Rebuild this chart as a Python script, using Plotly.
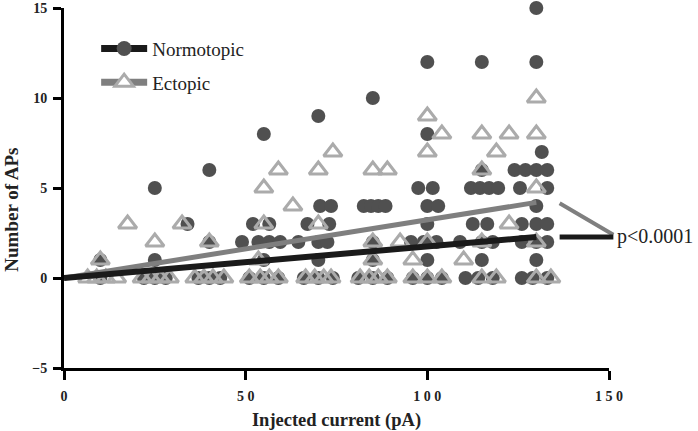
import plotly.graph_objects as go

# Normotopic cells (filled circles): injected current (pA) vs number of APs
norm_x = [10, 10,
          25, 25, 25, 22, 28,
          40, 34, 40, 40, 37, 43,
          55, 52, 56.5, 49, 53.5, 56.5, 59.5, 55, 51, 55, 59,
          70, 70.5, 73.5, 67, 73, 64.5, 70, 72.5, 70, 66, 70, 74,
          85, 82.5, 84.5, 86.5, 88.5, 85, 85, 81, 85, 89,
          100, 100, 97.5, 101.5, 100, 103, 100, 95.5, 99, 102.5, 100, 96, 100, 104,
          115, 115, 112, 114.5, 117, 119.5, 112.5, 116.5, 109, 115, 118, 115, 110.5, 114, 118,
          130, 130, 131.5, 124, 127, 130, 133, 125.5, 133, 130, 126, 130, 133, 126, 130, 133, 130, 126, 129, 133]
norm_y = [1, 0,
          5, 1, 0, 0, 0,
          6, 3, 2, 0, 0, 0,
          8, 3, 3, 2, 2, 2, 2, 1, 0, 0, 0,
          9, 4, 4, 3, 3, 2, 2, 2, 1, 0, 0, 0,
          10, 4, 4, 4, 4, 2, 1, 0, 0, 0,
          12, 8, 5, 5, 4, 4, 3, 2, 2, 2, 1, 0, 0, 0,
          12, 6, 5, 5, 5, 5, 3, 3, 2, 2, 2, 1, 0, 0, 0,
          15, 12, 7, 6, 6, 6, 6, 5, 5, 4, 3, 3, 3, 2, 2, 2, 1, 0, 0, 0]

# Ectopic cells (open triangles)
ect_x = [10, 17.5, 6.5, 9, 11.5, 14.5,
         25, 32.5, 21.5, 24, 26.5, 29,
         40, 36, 38.5, 41, 44,
         55, 59, 63, 55, 53.5, 51, 54, 56.5, 59,
         70, 74, 70, 66.5, 69, 71.5, 73.5,
         85, 89, 85, 92.5, 85, 81.5, 84, 86.5, 89,
         100, 104, 100, 100, 96, 96, 100, 104,
         115, 122.5, 119, 115, 122.5, 115, 110, 115, 119,
         130, 130, 130, 130, 130, 134]
ect_y = [1, 3, 0, 0, 0, 0,
         2, 3, 0, 0, 0, 0,
         2, 0, 0, 0, 0,
         5, 6, 4, 3, 1, 0, 0, 0, 0,
         6, 7, 3, 0, 0, 0, 0,
         6, 6, 2, 2, 1, 0, 0, 0, 0,
         9, 8, 7, 2, 1, 0, 0, 0,
         8, 8, 7, 6, 3, 2, 1, 0, 0,
         10, 8, 5, 2, 0, 0]

# linear regression lines
fit_x = [0, 130]
norm_fit_y = [0, 2.28]
ect_fit_y = [0, 4.2]

# bracket leading to the p-value label
bracket_x = [136, 151.2]
bracket_norm_y = [2.28, 2.28]
bracket_ect_y = [4.2, 2.4]
p_label = "p<0.0001"

x_ticks = [0, 50, 100, 150]
x_ticktext = ["0", "5 0", "1 0 0", "1 5 0"]
y_ticks = [-5, 0, 5, 10, 15]

DARK = "#505050"
LIGHT = "#ababab"
BLACK_LINE = "#1a1a1a"
GRAY_LINE = "#7f7f7f"
SERIF = "Liberation Serif, Times New Roman, serif"

fig = go.Figure()
fig.add_trace(go.Scatter(x=norm_x, y=norm_y, mode="markers", showlegend=False, cliponaxis=False,
                         marker=dict(symbol="circle", size=14, color=DARK, line=dict(width=0))))
fig.add_trace(go.Scatter(x=ect_x, y=ect_y, mode="markers", showlegend=False, cliponaxis=False,
                         marker=dict(symbol="triangle-up-open", size=16, color=LIGHT, line=dict(width=3, color=LIGHT))))
fig.add_trace(go.Scatter(x=fit_x, y=ect_fit_y, mode="lines", showlegend=False, line=dict(color=GRAY_LINE, width=5)))
fig.add_trace(go.Scatter(x=fit_x, y=norm_fit_y, mode="lines", showlegend=False, line=dict(color=BLACK_LINE, width=6)))

# legend-only entries (line + marker, as in the original key)
fig.add_trace(go.Scatter(x=[None], y=[None], mode="lines+markers", name="Normotopic", legendgroup="n",
                         line=dict(color=BLACK_LINE, width=7), marker=dict(symbol="circle", size=15, color=DARK)))
fig.add_trace(go.Scatter(x=[None], y=[None], mode="lines+markers", name="Ectopic", legendgroup="e",
                         line=dict(color=GRAY_LINE, width=7),
                         marker=dict(symbol="triangle-up", size=16, color="white", line=dict(width=3, color=LIGHT))))

# bracket to p-value (annotations are not clipped at the axis end)
for ys, col, w in [(bracket_ect_y, GRAY_LINE, 4), (bracket_norm_y, BLACK_LINE, 5)]:
    fig.add_annotation(x=bracket_x[1], y=ys[1], ax=bracket_x[0], ay=ys[0], axref="x", ayref="y", xref="x", yref="y",
                       text="", showarrow=True, arrowhead=0, arrowwidth=w, arrowcolor=col, standoff=0, startstandoff=0)
fig.add_annotation(x=150, y=bracket_norm_y[1], xref="x", yref="y", text=p_label, showarrow=False,
                   xanchor="left", xshift=6, font=dict(family=SERIF, size=20, color="#222"))

fig.add_annotation(x=-0.097, y=0.44, xref="paper", yref="paper", text="<b>Number of APs</b>", textangle=-90,
                   showarrow=False, xanchor="center", yanchor="middle", font=dict(family=SERIF, size=19, color="#222"))

fig.update_layout(
    width=698,
    height=431,
    margin=dict(l=64, r=89, t=8, b=63),
    paper_bgcolor="white",
    plot_bgcolor="white",
    font=dict(family=SERIF, size=13, color="#222"),
    showlegend=True,
    legend=dict(x=0.059, y=0.94, xanchor="left", yanchor="top", tracegroupgap=6, itemwidth=46, bgcolor="rgba(0,0,0,0)",
                font=dict(family=SERIF, size=19, color="#222")),
)
fig.update_xaxes(range=[0, 150], automargin=False, showline=True, linewidth=3, linecolor="black", showgrid=False, zeroline=False,
                 ticks="outside", ticklen=9, tickwidth=3, tickcolor="black", tickvals=x_ticks, ticktext=x_ticktext,
                 tickfont=dict(family=SERIF, size=14, color="#222", weight="bold"), ticklabelstandoff=4,
                 title=dict(text="<b>Injected current (pA)</b>", font=dict(family=SERIF, size=18.5, color="#222"), standoff=12))
fig.update_yaxes(range=[-5, 15], automargin=False, showline=True, linewidth=3, linecolor="black", showgrid=False, zeroline=False,
                 ticks="outside", ticklen=8, tickwidth=3, tickcolor="black", tickvals=y_ticks,
                 tickfont=dict(family=SERIF, size=14, color="#222", weight="bold"), ticklabelstandoff=3)

# drop the default page margin so the figure sits at the window corner
fig.write_html("out.html", config={"displayModeBar": False}, post_script="document.body.style.margin='0';")
